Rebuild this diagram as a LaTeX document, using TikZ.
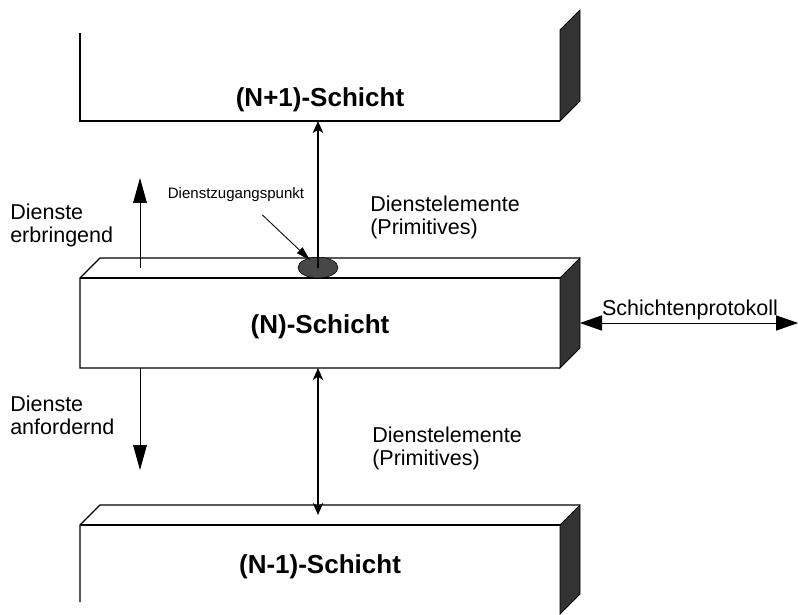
\documentclass[tikz,border=0pt]{standalone}
\usepackage{fontspec}
\setmainfont{Liberation Sans}
\usepackage{tikz}
\usetikzlibrary{arrows.meta,positioning,calc,shapes.geometric}

\begin{document}
\begin{tikzpicture}[
    front/.style={minimum width=12cm, minimum height=#1, inner sep=0pt, outer sep=0pt},
    side/.style={fill=black!80, draw=black, line width=0.6pt},
    rand/.style={draw=black, line width=0.8pt},
    titel/.style={font=\fontsize{18.5}{20}\selectfont\bfseries},
    txt/.style={font=\fontsize{15.3}{16.4}\selectfont, align=left, anchor=west, inner sep=0pt},
    klein/.style={font=\fontsize{10.7}{12}\selectfont},
    sap/.style={ellipse, draw, fill=black!72, minimum width=1cm, minimum height=0.52cm, inner sep=0pt},
    prim/.style={{Stealth[length=0.3cm,width=0.26cm,inset=0.08cm]}-{Stealth[length=0.3cm,width=0.26cm,inset=0.08cm]}, line width=1pt},
    primauf/.style={-{Stealth[length=0.3cm,width=0.26cm,inset=0.08cm]}, line width=1pt},
    gross/.style={-{Triangle[length=0.62cm,width=0.34cm]}, line width=0.6pt},
    proto/.style={{Triangle[length=0.55cm,width=0.38cm]}-{Triangle[length=0.55cm,width=0.38cm]}, line width=0.6pt},
    zeiger/.style={-{Triangle[length=0.35cm,width=0.2cm]}, line width=0.6pt, shorten >=0.28cm}
]
    \useasboundingbox (0,0) rectangle (19.95,15.35);

    % (N+1)-Schicht
    \node[front=2.275cm] (np1) at (8,13.4625) {};
    \node[titel] (tnp1) at ([yshift=0.525cm]np1.south) {(N+1)-Schicht};
    \draw[rand] ([yshift=-0.08cm]np1.north west) -- (np1.south west) -- (np1.south east);
    \filldraw[side] (np1.south east) -- ++(0.5,0.5) -- ([shift={(0.5,0.5)}]np1.north east) -- (np1.north east) -- cycle;

    % (N)-Schicht
    \node[front=2.25cm] (n) at (8,7.275) {};
    \node[titel] (tn) at ([yshift=-0.1cm]n.center) {(N)-Schicht};
    \draw[rand] (n.south east) -- (n.south west) -- (n.north west) -- ++(0.5,0.5) -- ([shift={(0.5,0.5)}]n.north east);
    \draw[rand] (n.north west) -- (n.north east);
    \filldraw[side] (n.north east) -- ++(0.5,0.5) -- ([shift={(0.5,0.5)}]n.south east) -- (n.south east) -- cycle;

    % (N-1)-Schicht
    \node[front=2.225cm] (nm1) at (8,1.1125) {};
    \node[titel] (tnm1) at ([yshift=0.06cm]nm1.center) {(N-1)-Schicht};
    \draw[rand] ([yshift=0.3cm]nm1.south west) -- (nm1.north west) -- ++(0.5,0.5) -- ([shift={(0.5,0.5)}]nm1.north east);
    \draw[rand] (nm1.north west) -- (nm1.north east);
    \filldraw[side] (nm1.north east) -- ++(0.5,0.5) -- ([shift={(0.5,0.5)}]nm1.south east) -- (nm1.south east) -- cycle;

    % Dienstzugangspunkt
    \node[sap] (sap) at (7.95,8.66) {};
    \node[klein] (dzp) at (5.9,10.475) {Dienstzugangspunkt};

    % Labels
    \node[txt] (erb) at (0.25,9.725) {Dienste\\erbringend};
    \node[txt] (anf) at (0.25,4.975) {Dienste\\anfordernd};
    \node[txt] (prim1) at (9.25,9.925) {Dienstelemente\\(Primitives)};
    \node[txt] (prim2) at (9.3,4.15) {Dienstelemente\\(Primitives)};
    \node[txt, anchor=center] (sp) at (17.25,7.6) {Schichtenprotokoll};

    % Coordinates
    \coordinate (erbU) at (3.5,8.65);
    \coordinate (erbO) at (3.5,10.9);
    \coordinate (anfO) at (erbU |- n.south);
    \coordinate (anfU) at (3.5,3.6);
    \coordinate (nm1in) at (7.95,2.475);
    \coordinate (protoR) at (19.95,7.275);

    % Arrows
    \draw[gross] (erbU) -- (erbO);
    \draw[gross] (anfO) -- (anfU);
    \draw[primauf] (sap.center) -- (sap |- np1.south);
    \draw[prim] (sap |- n.south) -- (nm1in);
    \draw[zeiger] ([shift={(0.66,-0.2)}]dzp.south) -- (sap.center);
    \draw[proto] ([xshift=0.5cm]n.east) -- (protoR);
\end{tikzpicture}
\end{document}
